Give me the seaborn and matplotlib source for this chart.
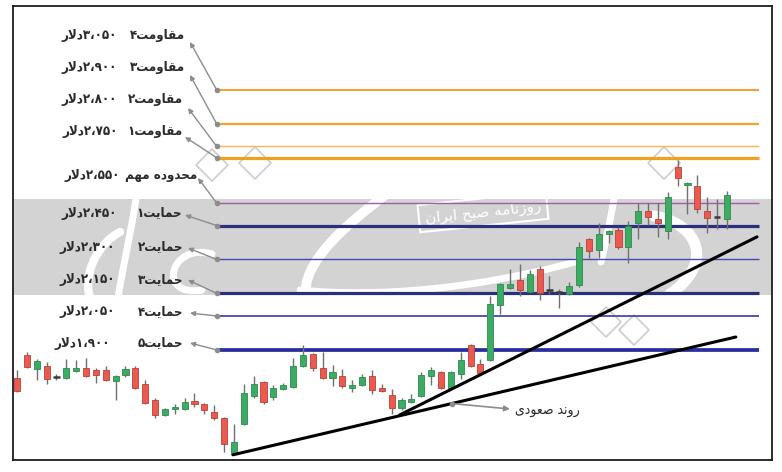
import numpy as np
import pandas as pd
import matplotlib
matplotlib.use("Agg")
import matplotlib.pyplot as plt
import matplotlib.transforms as mtransforms
from matplotlib.path import Path
from matplotlib.patches import PathPatch, Polygon, Rectangle
import seaborn as sns

# daily candles, oldest first (dollars)
opens = [1776, 1878, 1816, 1829, 1783, 1776, 1807, 1820, 1812, 1812, 1763, 1789, 1820, 1750, 1679,
         1613, 1640, 1639, 1674, 1661, 1626, 1599, 1440, 1573, 1697, 1758, 1692, 1728, 1736, 1829,
         1882, 1820, 1776, 1785, 1732, 1745, 1785, 1732, 1701, 1643, 1670, 1697, 1785, 1803, 1732,
         1794, 1922, 1838, 1856, 2099, 2174, 2210, 2157, 2258, 2168, 2157, 2148, 2187, 2391, 2342,
         2413, 2431, 2356, 2462, 2515, 2479, 2426, 2709, 2630, 2625, 2515, 2490, 2479]
closes = [1719, 1825, 1851, 1772, 1779, 1820, 1820, 1785, 1789, 1767, 1785, 1816, 1732, 1666, 1613,
          1639, 1646, 1670, 1661, 1635, 1599, 1484, 1493, 1710, 1750, 1670, 1732, 1745, 1829, 1878,
          1820, 1776, 1803, 1741, 1745, 1781, 1723, 1719, 1643, 1679, 1683, 1789, 1812, 1732, 1803,
          1856, 1829, 1798, 2103, 2192, 2192, 2165, 2236, 2152, 2165, 2155, 2183, 2356, 2338, 2413,
          2426, 2356, 2448, 2515, 2488, 2462, 2577, 2661, 2639, 2524, 2484, 2488, 2586]
highs = [1812, 1891, 1860, 1847, 1794, 1860, 1856, 1865, 1820, 1829, 1789, 1829, 1829, 1767, 1688,
         1643, 1661, 1688, 1710, 1666, 1657, 1604, 1573, 1750, 1785, 1763, 1745, 1754, 1865, 1922,
         1887, 1891, 1834, 1816, 1767, 1794, 1812, 1750, 1728, 1688, 1705, 1803, 1825, 1807, 1807,
         1891, 1927, 1860, 2139, 2196, 2258, 2280, 2254, 2272, 2227, 2170, 2201, 2378, 2395, 2462,
         2431, 2444, 2471, 2550, 2550, 2550, 2599, 2740, 2643, 2674, 2577, 2568, 2603]
lows = [1714, 1820, 1767, 1750, 1767, 1772, 1803, 1781, 1754, 1763, 1679, 1781, 1728, 1661, 1599,
        1608, 1617, 1635, 1648, 1617, 1590, 1449, 1436, 1568, 1688, 1661, 1679, 1723, 1732, 1825,
        1807, 1772, 1741, 1732, 1714, 1741, 1705, 1714, 1617, 1635, 1666, 1692, 1745, 1728, 1728,
        1772, 1825, 1794, 1851, 2059, 2170, 2139, 2152, 2121, 2148, 2086, 2143, 2179, 2307, 2307,
        2373, 2347, 2285, 2391, 2453, 2400, 2391, 2625, 2502, 2506, 2417, 2435, 2435]

# support / resistance levels
level_names = ["مقاومت۴", "مقاومت۳", "مقاومت۲", "مقاومت۱", "محدوده مهم",
               "حمایت۱", "حمایت۲", "حمایت۳", "حمایت۴", "حمایت۵"]
level_prices = [3050, 2900, 2800, 2750, 2550, 2450, 2300, 2150, 2050, 1900]
level_texts = ["۳،۰۵۰دلار", "۲،۹۰۰دلار", "۲،۸۰۰دلار", "۲،۷۵۰دلار", "۲،۵۵۰دلار",
               "۲،۴۵۰دلار", "۲،۳۰۰دلار", "۲،۱۵۰دلار", "۲،۰۵۰دلار", "۱،۹۰۰دلار"]

# rising trend lines (day, price)
trend_days = [[21.9, 72.9], [38.8, 75.05]]
trend_prices = [[1436, 1957], [1612, 2400]]
trend_label = "روند صعودی"
paper_name = "روزنامه صبح ایران"

# ---- simple persian shaping, matplotlib has no bidi support ----
FA_FORMS = {
    "ا": ("\uFE8D", "\uFE8E", None, None),
    "ب": ("\uFE8F", "\uFE90", "\uFE91", "\uFE92"),
    "ت": ("\uFE95", "\uFE96", "\uFE97", "\uFE98"),
    "ح": ("\uFEA1", "\uFEA2", "\uFEA3", "\uFEA4"),
    "د": ("\uFEA9", "\uFEAA", None, None),
    "ر": ("\uFEAD", "\uFEAE", None, None),
    "ز": ("\uFEAF", "\uFEB0", None, None),
    "ص": ("\uFEB9", "\uFEBA", "\uFEBB", "\uFEBC"),
    "ع": ("\uFEC9", "\uFECA", "\uFECB", "\uFECC"),
    "ق": ("\uFED5", "\uFED6", "\uFED7", "\uFED8"),
    "ل": ("\uFEDD", "\uFEDE", "\uFEDF", "\uFEE0"),
    "م": ("\uFEE1", "\uFEE2", "\uFEE3", "\uFEE4"),
    "ن": ("\uFEE5", "\uFEE6", "\uFEE7", "\uFEE8"),
    "ه": ("\uFEE9", "\uFEEA", "\uFEEB", "\uFEEC"),
    "و": ("\uFEED", "\uFEEE", None, None),
    "ی": ("\uFEEF", "\uFEF0", "\uFEF3", "\uFEF4"),
}
FA_NUM = "۰۱۲۳۴۵۶۷۸۹،"


def fa(text):
    chars = list(text)
    shaped = []
    k = 0
    while k < len(chars):
        c = chars[k]
        if c not in FA_FORMS:
            shaped.append(c)
            k += 1
            continue
        prev = chars[k - 1] if k > 0 else None
        nxt = chars[k + 1] if k + 1 < len(chars) else None
        joins_prev = prev in FA_FORMS and FA_FORMS[prev][2] is not None
        if c == "ل" and nxt == "ا":
            shaped.append("\uFEFC" if joins_prev else "\uFEFB")
            k += 2
            continue
        joins_next = FA_FORMS[c][2] is not None and nxt in FA_FORMS
        iso, fin, ini, med = FA_FORMS[c]
        if joins_prev and joins_next:
            shaped.append(med)
        elif joins_prev:
            shaped.append(fin)
        elif joins_next:
            shaped.append(ini)
        else:
            shaped.append(iso)
        k += 1
    runs = []
    for ch in shaped:
        is_num = ch in FA_NUM
        if runs and runs[-1][0] == is_num:
            runs[-1][1].append(ch)
        else:
            runs.append([is_num, [ch]])
    out = ""
    for is_num, run in reversed(runs):
        out += "".join(run) if is_num else "".join(reversed(run))
    return out


sns.set_theme(style="white")
plt.rcParams["font.family"] = ["DejaVu Sans"]

fig = plt.figure(figsize=(7.82, 4.72), dpi=100)
ax = fig.add_axes([13 / 782, 12 / 472, 759 / 782, 454 / 472])
ax.set_xlim(-0.406, 76.57)
ax.set_ylim(1413, 3421)
ax.set_xticks([])
ax.set_yticks([])
for s in ax.spines.values():
    s.set_color("#1e1e1e")
    s.set_linewidth(1.3)

# pixel coords of the picture (origin top-left) for the decoration and labels
PX = mtransforms.Affine2D().scale(0.01, -0.01).translate(0, 4.72) + fig.dpi_scale_trans

# watermark: grey band, white strokes, diamonds and the paper's name
ax.add_patch(Rectangle((13, 199), 759, 96, transform=PX, color="#d3d3d3", lw=0, zorder=0.5))
strokes = [
    ([(120, 232), (100, 242), (82, 272), (90, 298)], 6),
    ([(136, 199), (131, 232), (123, 266), (118, 298)], 5),
    ([(212, 254), (170, 242), (156, 298), (202, 290)], 5),
    ([(384, 196), (350, 222), (300, 262), (306, 298)], 7),
    ([(300, 290), (380, 298), (480, 288), (575, 262)], 5),
    ([(616, 186), (612, 214), (606, 240), (601, 262)], 5),
    ([(654, 216), (700, 224), (714, 264), (670, 294)], 8),
]
for pts, w in strokes:
    path = Path(pts, [Path.MOVETO, Path.CURVE4, Path.CURVE4, Path.CURVE4])
    ax.add_patch(PathPatch(path, transform=PX, fc="none", ec="white", lw=w,
                           capstyle="round", zorder=0.6))
for cx, cy, r in [(212, 165, 16), (255, 163, 16), (664, 163, 16), (606, 322, 15), (634, 330, 15)]:
    ax.add_patch(Polygon([(cx, cy - r), (cx + r, cy), (cx, cy + r), (cx - r, cy)], closed=True,
                         transform=PX, fc="none", ec="#cdcdcd", lw=1.2, joinstyle="round",
                         zorder=0.7))
ax.text(483, 212, fa(paper_name), transform=PX, rotation=6, ha="center", va="center",
        color="white", fontsize=11, zorder=0.8,
        bbox=dict(boxstyle="square,pad=0.4", fc="none", ec="white", lw=1.5))

# levels
line_x0, line_x1 = 20.25, 75.25
level_colors = ["#f2a335", "#f2a335", "#f6b550", "#f0a020", "#a45aa8",
                "#2c2f7e", "#4848b4", "#2c2f7e", "#4848b4", "#2a2e9c"]
level_widths = [1.5, 1.6, 1.0, 2.3, 1.0, 2.3, 1.0, 2.3, 1.3, 2.7]
ax.hlines(level_prices, line_x0, line_x1, colors=level_colors, linewidths=level_widths, zorder=2)
ax.scatter([line_x0] * len(level_prices), level_prices, s=16, color="#8c8c8c", zorder=5,
           linewidths=0)

# label layout in picture pixels: arrow head, name right edge, price right edge, text row
arrow_heads = [(190, 42), (190, 75), (188, 108), (185, 137), (198, 178),
               (185, 215), (188, 248), (188, 280), (190, 313), (190, 343)]
name_right = [185, 185, 183, 183, 197, 182, 183, 183, 183, 183]
price_right = [117, 117, 117, 118, 125, 117, 115, 115, 115, 110]
text_rows = [35, 68, 100, 132, 175, 213, 247, 280, 312, 343]
label_font = dict(fontsize=9.5, fontweight="bold", fontstretch="condensed", color="#2a2a2a")
renderer = fig.canvas.get_renderer()
for i, p in enumerate(level_prices):
    ax.annotate("", xy=arrow_heads[i], xycoords=PX, xytext=(line_x0, p), textcoords="data",
                arrowprops=dict(arrowstyle="-|>", color="#8c8c8c", lw=1.0, mutation_scale=7,
                                shrinkA=0, shrinkB=0), zorder=4)
    name = ax.text(name_right[i], text_rows[i], fa(level_names[i]), transform=PX, ha="right",
                   va="center", zorder=6, **label_font)
    # keep the price clear of the name when the font runs wider
    left_px = name.get_window_extent(renderer).x0
    right = min(price_right[i], left_px - 5)
    ax.text(right, text_rows[i], fa(level_texts[i]), transform=PX, ha="right",
            va="center", zorder=6, **label_font)

# trend lines
trend = pd.DataFrame({
    "day": [d for pair in trend_days for d in pair],
    "price": [p for pair in trend_prices for p in pair],
    "line": [k for k, pair in enumerate(trend_days) for _ in pair],
})
sns.lineplot(data=trend, x="day", y="price", units="line", estimator=None, color="black",
             lw=2.2, ax=ax, legend=False, zorder=4)
ax.set_xlabel("")
ax.set_ylabel("")

# uptrend label
t_day = 44.1
t_price = trend_prices[0][0] + (t_day - trend_days[0][0]) * \
    (trend_prices[0][1] - trend_prices[0][0]) / (trend_days[0][1] - trend_days[0][0])
ax.scatter([t_day], [t_price], s=16, color="#8c8c8c", zorder=5, linewidths=0)
ax.annotate("", xy=(510, 409), xycoords=PX, xytext=(t_day, t_price), textcoords="data",
            arrowprops=dict(arrowstyle="-|>", color="#8c8c8c", lw=1.2, mutation_scale=8,
                            shrinkA=0, shrinkB=0), zorder=5)
ax.text(515, 410, fa(trend_label), transform=PX, ha="left", va="center", fontsize=10,
        fontstretch="condensed", color="#2a2a2a", zorder=6)

# candles
df = pd.DataFrame({"open": opens, "close": closes, "high": highs, "low": lows})
df["day"] = np.arange(len(df))
df["body"] = (df["close"] - df["open"]).abs()
df["bottom"] = df[["open", "close"]].min(axis=1)
ax.vlines(df["day"], df["low"], df["high"], color="#707070", lw=1.0, zorder=3)
up = df[(df["close"] > df["open"]) & (df["body"] >= 5)]
down = df[(df["close"] < df["open"]) & (df["body"] >= 5)]
flat = df[df["body"] < 5]
ax.bar(up["day"], up["body"].clip(lower=8), bottom=up["bottom"], width=0.62,
       color="#3dab64", edgecolor="#2a8c4c", linewidth=0.6, zorder=3.5)
ax.bar(down["day"], down["body"].clip(lower=8), bottom=down["bottom"], width=0.62,
       color="#ea5a4e", edgecolor="#b8403a", linewidth=0.6, zorder=3.5)
ax.hlines(flat["close"], flat["day"] - 0.32, flat["day"] + 0.32, color="#3a3a3a", lw=1.8,
          zorder=3.5)

fig.savefig("out.png", dpi=100)
